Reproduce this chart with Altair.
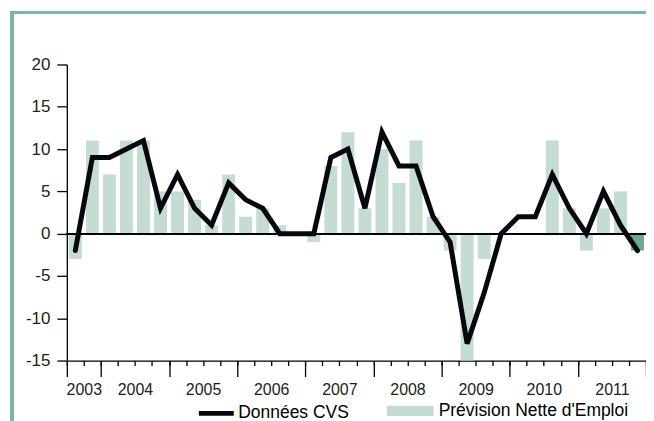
import altair as alt
import pandas as pd

# 2003 T3 ... 2011 T4 (34 trimestres)
trimestres = [f"{y}T{q}" for y in range(2003, 2012) for q in range(1, 5)][2:]
donnees_cvs = [-2, 9, 9, 10, 11, 3, 7, 3, 1, 6, 4, 3, 0, 0, 0, 9,
               10, 3, 12, 8, 8, 2, -1, -13, -7, 0, 2, 2, 7, 3, 0, 5, 1, -2]
prevision = [-3, 11, 7, 11, 11, 5, 5, 4, 1, 7, 2, 3, 1, 0, -1, 8,
             12, 3, 10, 6, 11, 2, -2, -15, -3, 0, 0, 0, 11, 3, -2, 3, 5, -2]
types_barre = ["Prévision Nette d'Emploi"] * 33 + ["Dernier trimestre"]
annees = ["2003", "2004", "2005", "2006", "2007", "2008", "2009", "2010", "2011"]

df = pd.DataFrame({
    "trimestre": trimestres,
    "i": list(range(len(trimestres))),
    "cvs": donnees_cvs,
    "pne": prevision,
    "type": types_barre,
    "serie": ["Données CVS"] * len(trimestres),
})

FONT = "Liberation Sans"
xscale = alt.Scale(domain=[0, 34], nice=False, zero=False)
yscale = alt.Scale(domain=[-15, 20], nice=False)

# axis A: quarter ticks + domain
axis_quarters = alt.Axis(
    orient="bottom", values=list(range(0, 35)), title=None, grid=False, labels=False,
    domainColor="black", domainWidth=1.3, tickColor="black", tickWidth=1.3, tickSize=5,
)
# axis B: long year ticks
year_bounds = [0] + list(range(2, 35, 4))
axis_years = alt.Axis(
    orient="bottom", values=year_bounds, title=None, grid=False, labels=False,
    domain=False, tickColor="black", tickWidth=1.3, tickSize=16,
)
# axis C: year labels centred in each year
year_centres = [1] + list(range(4, 33, 4))
label_expr = "[" + ",".join(f"'{a}'" for a in annees) + "][datum.value == 1 ? 0 : datum.value / 4]"
axis_labels = alt.Axis(
    orient="bottom", values=year_centres, title=None, grid=False, ticks=False, domain=False,
    labelExpr=label_expr, labelOverlap=False, labelFlush=False,
    labelFont=FONT, labelFontSize=16, labelColor="#222", labelPadding=21,
)
y_axis = alt.Axis(
    values=[-15, -10, -5, 0, 5, 10, 15, 20],
    title=None, grid=False,
    domainColor="black", domainWidth=1.3,
    tickColor="black", tickWidth=1.3, tickSize=10,
    labelExpr="'' + datum.value",
    labelFont=FONT, labelFontSize=17, labelColor="#222", labelPadding=7,
)

fill_scale = alt.Scale(domain=["Prévision Nette d'Emploi", "Dernier trimestre"],
                       range=["#c4dcd2", "#6fa892"])
fill_legend = alt.Legend(
    values=["Prévision Nette d'Emploi"], title=None, orient="none",
    legendX=321, legendY=324, padding=0,
    symbolType="M-1,-0.22H1V0.22H-1Z", symbolSize=2200,
    symbolStrokeWidth=0, symbolOpacity=1, labelLimit=400,
    labelFont=FONT, labelFontSize=17.5, labelColor="black", labelOffset=5,
)

base = alt.Chart(df)

bars_main = base.mark_bar().transform_filter(
    "datum.type != 'Dernier trimestre'"
).transform_calculate(
    x0="datum.i + 0.12", x1="datum.i + 0.88"
).encode(
    x=alt.X("x0:Q", scale=xscale, axis=axis_quarters),
    x2="x1:Q",
    y=alt.Y("pne:Q", scale=yscale, axis=y_axis),
    y2=alt.datum(0),
    fill=alt.Fill("type:N", scale=fill_scale, legend=fill_legend),
)

bars_last = base.mark_bar().transform_filter(
    "datum.type == 'Dernier trimestre'"
).transform_calculate(
    x0="datum.i + 0.12", x1="datum.i + 0.88"
).encode(
    x=alt.X("x0:Q", scale=xscale, axis=axis_years),
    x2="x1:Q",
    y=alt.Y("pne:Q", scale=yscale),
    y2=alt.datum(0),
    fill=alt.Fill("type:N", scale=fill_scale, legend=fill_legend),
)

zero = base.mark_rule(color="black", strokeWidth=1.3).encode(y=alt.datum(0))

line = base.mark_line(strokeWidth=5, strokeJoin="miter", strokeCap="round").transform_calculate(
    xc="datum.i + 0.5"
).encode(
    x=alt.X("xc:Q", scale=xscale, axis=axis_labels),
    y=alt.Y("cvs:Q", scale=yscale),
    stroke=alt.Stroke(
        "serie:N",
        scale=alt.Scale(domain=["Données CVS"], range=["#07070f"]),
        legend=alt.Legend(
            title=None, orient="none", legendX=130, legendY=330, padding=0,
            symbolType="stroke", symbolSize=1225, symbolStrokeWidth=5,
            labelFont=FONT, labelFontSize=17.5, labelColor="black", labelOffset=2,
        ),
    ),
)

frame_top = base.mark_rule(color="#7fb5a1", strokeWidth=2.5).encode(
    x=alt.value(-55), x2=alt.value(600), y=alt.value(-52)
)
frame_left = base.mark_rule(color="#7fb5a1", strokeWidth=2.5).encode(
    x=alt.value(-55), y=alt.value(-53), y2=alt.value(360)
)

chart = alt.layer(frame_top, frame_left, bars_main, bars_last, zero, line).properties(
    width=581, height=297,
    autosize=alt.AutoSizeParams(type="none"),
    padding={"left": 59, "top": 56, "right": 0, "bottom": 60},
).configure_view(stroke=None).resolve_axis(x="independent").resolve_legend(
    stroke="independent")

chart.save("out.html", embed_options={"renderer": "svg", "actions": False})
